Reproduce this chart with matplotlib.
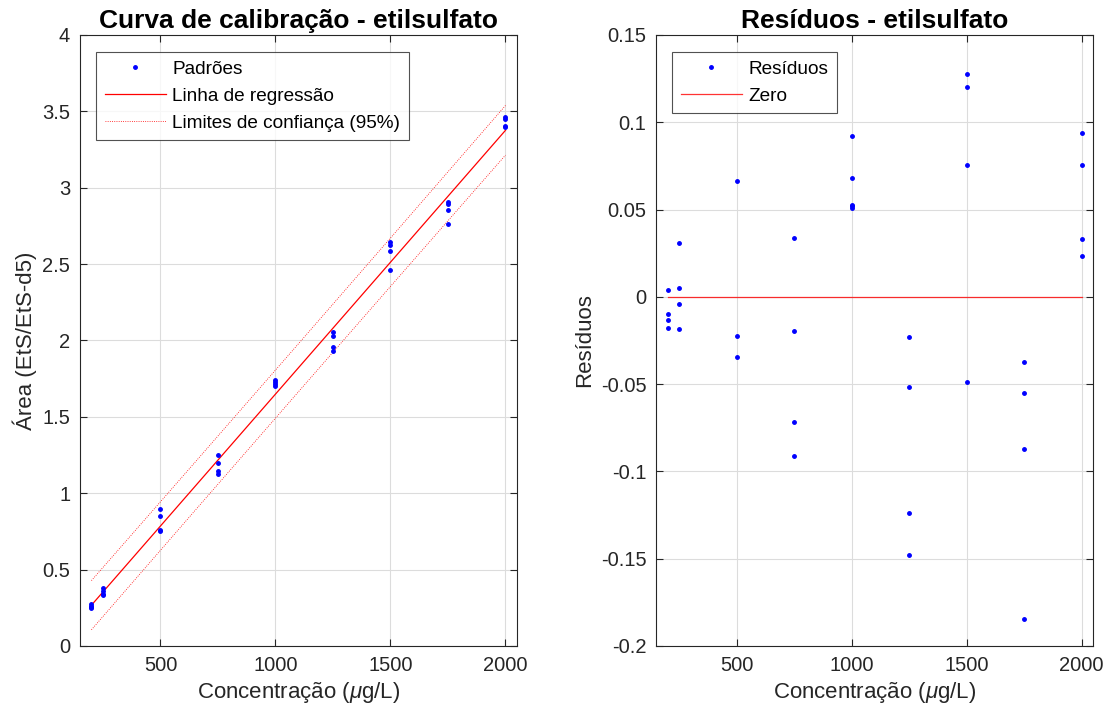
## Import Libraries
import numpy as np
import matplotlib
matplotlib.use("Agg")
import matplotlib.pyplot as plt

plt.rcParams['font.family'] = ['Liberation Sans', 'DejaVu Sans']
plt.rcParams['axes.unicode_minus'] = False
plt.rcParams['mathtext.fontset'] = 'custom'
plt.rcParams['mathtext.it'] = 'Liberation Sans:italic'
plt.rcParams['mathtext.rm'] = 'Liberation Sans'

## Data
# calibration standards: concentration (ug/L) and area ratio EtS/EtS-d5
conc = [200, 200, 200, 200,
        250, 250, 250, 250,
        500, 500, 500, 500,
        750, 750, 750, 750,
        1000, 1000, 1000, 1000,
        1250, 1250, 1250, 1250,
        1500, 1500, 1500, 1500,
        1750, 1750, 1750, 1750,
        2000, 2000, 2000, 2000]
area = [0.272, 0.262, 0.252, 0.248,
        0.382, 0.360, 0.343, 0.333,
        0.895, 0.851, 0.757, 0.750,
        1.248, 1.196, 1.146, 1.124,
        1.742, 1.730, 1.718, 1.705,
        2.055, 2.030, 1.955, 1.930,
        2.642, 2.628, 2.586, 2.461,
        2.905, 2.892, 2.857, 2.762,
        3.465, 3.452, 3.404, 3.396]

# residuals as plotted in the right panel
res_conc = [200, 200, 200, 200,
            250, 250, 250, 250,
            500, 500, 500,
            750, 750, 750, 750,
            1000, 1000, 1000, 1000, 1000,
            1250, 1250, 1250, 1250,
            1500, 1500, 1500, 1500,
            1750, 1750, 1750, 1750,
            2000, 2000, 2000, 2000]
residuals = [0.0038, -0.0096, -0.0134, -0.0176,
             0.0307, 0.0050, -0.0042, -0.0187,
             0.0665, -0.0223, -0.0345,
             0.0335, -0.0197, -0.0716, -0.0914,
             0.0922, 0.0682, 0.0525, 0.0519, 0.0510,
             -0.0233, -0.0514, -0.1241, -0.1478,
             0.1277, 0.1201, 0.0755, -0.0488,
             -0.0376, -0.0550, -0.0874, -0.1845,
             0.0940, 0.0755, 0.0331, 0.0233]

left_yticks = ['0', '0.5', '1', '1.5', '2', '2.5', '3', '3.5', '4']
right_yticks = ['-0.2', '-0.15', '-0.1', '-0.05', '0', '0.05', '0.1', '0.15']

t_95 = 2.028  # t(0.975, n-2)

## Regression and prediction bands
x = np.array(conc, dtype=float)
y = np.array(area)
slope, intercept = np.polyfit(x, y, 1)
xfit = np.linspace(x.min(), x.max(), 200)
yfit = slope * xfit + intercept
n = len(x)
s = np.sqrt(np.sum((y - (slope * x + intercept)) ** 2) / (n - 2))
half = t_95 * s * np.sqrt(1 + 1 / n + (xfit - x.mean()) ** 2 / np.sum((x - x.mean()) ** 2))

## Figure
fig = plt.figure(figsize=(11.12, 7.13), dpi=100)
ax1 = fig.add_axes([0.0719, 0.094, 0.393, 0.857])
ax2 = fig.add_axes([0.590, 0.094, 0.393, 0.857])

axcol = '#262626'

def style_axes(ax):
    ax.grid(True, color='#dcdcdc', linewidth=0.8)
    ax.set_axisbelow(True)
    ax.tick_params(direction='in', length=5, width=0.8, colors=axcol,
                   labelcolor='#262626', labelsize=14.5, top=True, right=True, pad=7)
    for sp in ax.spines.values():
        sp.set_color(axcol)
        sp.set_linewidth(0.8)
    ax.set_xlim(150, 2050)
    ax.set_xticks([500, 1000, 1500, 2000])
    ax.set_xlabel(r'Concentração ($\mu$g/L)', fontsize=16, color='#262626')

def add_legend(ax):
    leg = ax.legend(loc='upper left', fontsize=13.7, frameon=True, fancybox=False,
                    edgecolor=axcol, borderpad=0.45, handlelength=3.2, handletextpad=0.35,
                    labelspacing=0.5, borderaxespad=0, bbox_to_anchor=(0.037, 0.972))
    leg.get_frame().set_linewidth(0.8)
    return leg

# left: calibration curve
ax1.plot(conc, area, '.', color='blue', markersize=5, label='Padrões', zorder=3)
ax1.plot(xfit, yfit, '-', color='red', linewidth=0.9, label='Linha de regressão')
ax1.plot(xfit, yfit + half, ':', color='red', linewidth=0.6, label='Limites de confiança (95%)')
ax1.plot(xfit, yfit - half, ':', color='red', linewidth=0.6)
style_axes(ax1)
ax1.set_ylim(0, 4)
ax1.set_yticks(np.arange(0, 4.01, 0.5))
ax1.set_yticklabels(left_yticks)
ax1.set_ylabel('Área (EtS/EtS-d5)', fontsize=16, color='#262626')
ax1.set_title('Curva de calibração - etilsulfato', fontsize=19, fontweight='bold', pad=5)
add_legend(ax1)

# right: residuals
ax2.plot(res_conc, residuals, '.', color='blue', markersize=5, label='Resíduos', zorder=3)
ax2.plot([min(conc), max(conc)], [0, 0], '-', color='red', linewidth=0.9, alpha=0.8, label='Zero')
style_axes(ax2)
ax2.set_ylim(-0.2, 0.15)
ax2.set_yticks(np.linspace(-0.2, 0.15, len(right_yticks)))
ax2.set_yticklabels(right_yticks)
ax2.set_ylabel('Resíduos', fontsize=16, color='#262626')
ax2.set_title('Resíduos - etilsulfato', fontsize=19, fontweight='bold', pad=5)
add_legend(ax2)

fig.savefig('out.png', dpi=100)
